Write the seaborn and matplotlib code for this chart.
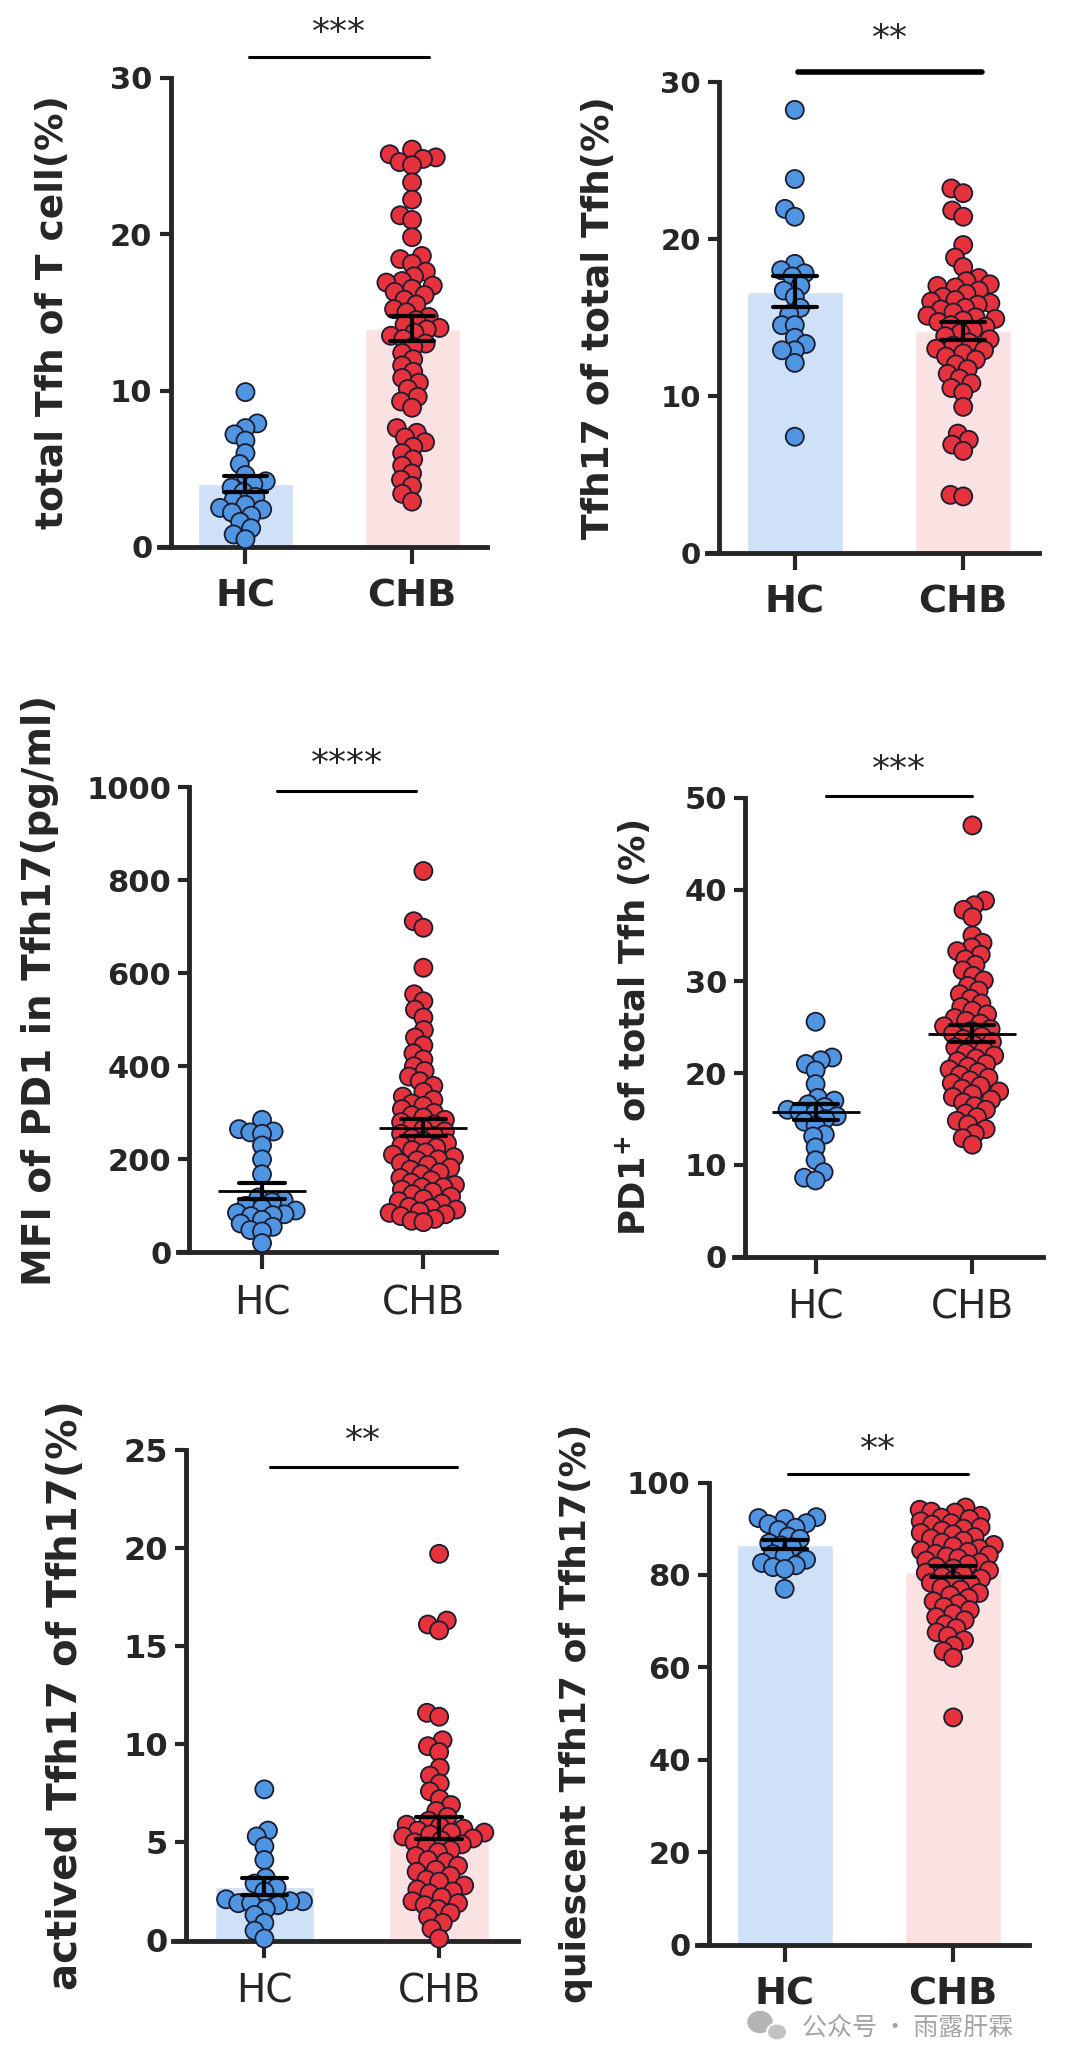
import numpy as np
import pandas as pd
import seaborn as sns
import matplotlib.pyplot as plt
from matplotlib.patches import Ellipse

groups = ['HC', 'CHB']

# total Tfh of T cell (%)
tfh_hc = [9.9, 7.9, 7.6, 7.2, 6.8, 6.0, 5.3, 4.6, 4.2, 4.0, 3.8, 3.5, 3.2, 3.0,
          2.7, 2.5, 2.4, 2.2, 2.0, 1.6, 1.2, 0.8, 0.5]
tfh_chb = [25.4, 25.1, 24.9, 24.8, 24.6, 24.4, 23.3, 22.2, 21.2, 20.9, 19.8, 18.6,
           18.4, 18.1, 17.6, 17.3, 17.0, 16.9, 16.7, 16.5, 16.3, 16.1, 15.8, 15.5,
           15.2, 15.0, 14.7, 14.5, 14.2, 14.0, 13.9, 13.7, 13.5, 13.3, 13.0, 12.8,
           12.4, 12.0, 11.6, 11.2, 10.8, 10.5, 10.1, 9.6, 9.3, 8.9, 7.6, 7.3, 7.0,
           6.7, 6.4, 6.0, 5.6, 5.2, 4.7, 4.3, 3.9, 3.4, 2.9]

# Tfh17 of total Tfh (%)
tfh17_hc = [28.2, 23.8, 21.9, 21.4, 18.4, 18.0, 17.8, 17.6, 17.0, 16.7, 16.3, 15.6,
            15.2, 14.5, 14.5, 13.7, 13.3, 12.9, 12.9, 12.1, 7.4]
tfh17_chb = [23.2, 22.9, 21.8, 21.4, 19.6, 18.8, 18.2, 17.5, 17.3, 17.1, 17.0, 16.9,
             16.7, 16.5, 16.3, 16.1, 16.0, 15.9, 15.8, 15.6, 15.5, 15.3, 15.1, 15.0,
             14.9, 14.8, 14.7, 14.5, 14.4, 14.2, 14.0, 13.8, 13.6, 13.4, 13.2, 13.0,
             12.9, 12.7, 12.5, 12.3, 12.0, 11.7, 11.4, 11.1, 10.8, 10.5, 10.2, 9.3,
             7.6, 7.2, 6.9, 6.5, 3.7, 3.6]

# MFI of PD1 in Tfh17 (pg/ml)
mfi_hc = [285, 265, 260, 258, 255, 230, 200, 168, 118, 112, 108, 100, 95, 90, 85,
          82, 80, 78, 70, 62, 55, 48, 45, 20]
mfi_chb = [820, 712, 698, 612, 555, 540, 522, 505, 478, 462, 445, 428, 415, 400,
           390, 378, 368, 358, 345, 335, 328, 320, 315, 308, 300, 295, 290, 285,
           280, 275, 270, 265, 260, 255, 250, 245, 240, 235, 230, 225, 220, 215,
           210, 205, 200, 198, 192, 188, 182, 178, 172, 168, 160, 155, 150, 145,
           140, 140, 135, 130, 125, 120, 115, 110, 105, 98, 95, 92, 88, 85, 82,
           78, 72, 68, 65]

# PD1+ of total Tfh (%)
pd1_hc = [25.6, 21.7, 21.4, 21.0, 20.3, 18.8, 17.3, 17.0, 16.6, 16.3, 16.0, 15.8,
          15.6, 15.3, 15.0, 14.7, 14.3, 13.3, 13.1, 11.9, 10.5, 9.2, 8.6, 8.3]
pd1_chb = [47.0, 38.8, 38.3, 37.8, 37.0, 35.0, 34.2, 33.7, 33.3, 32.9, 32.4, 31.8,
           31.2, 30.6, 30.1, 29.5, 29.0, 28.6, 28.1, 27.6, 27.2, 26.8, 26.4, 26.0,
           25.7, 25.4, 25.1, 24.8, 24.6, 24.3, 24.0, 23.7, 23.4, 23.1, 22.8, 22.5,
           22.2, 21.9, 21.6, 21.3, 21.0, 20.7, 20.4, 20.1, 19.8, 19.5, 19.2, 18.9,
           18.6, 18.3, 18.0, 17.7, 17.4, 17.1, 16.8, 16.4, 16.0, 15.6, 15.2, 14.8,
           14.4, 13.9, 13.4, 12.9, 12.2]

# actived Tfh17 of Tfh17 (%)
act_hc = [7.7, 5.6, 5.3, 4.8, 4.1, 3.2, 2.9, 2.7, 2.5, 2.1, 2.0, 2.0, 1.9, 1.9, 1.8,
          1.6, 1.3, 0.9, 0.5, 0.1]
act_chb = [19.7, 16.3, 16.1, 15.8, 11.6, 11.4, 10.2, 9.9, 9.6, 8.8, 8.4, 8.0, 7.6,
           7.2, 6.9, 6.6, 6.3, 6.1, 5.9, 5.8, 5.7, 5.6, 5.5, 5.5, 5.4, 5.3, 5.2,
           5.1, 5.0, 4.9, 4.8, 4.6, 4.5, 4.3, 4.1, 4.0, 3.8, 3.6, 3.5, 3.3, 3.1,
           3.0, 2.8, 2.6, 2.5, 2.4, 2.2, 2.0, 1.9, 1.8, 1.6, 1.4, 1.2, 0.9, 0.6, 0.1]

# quiescent Tfh17 of Tfh17 (%)
qui_hc = [92.5, 92.3, 92.1, 91.2, 91.0, 90.2, 89.7, 88.3, 87.8, 86.9, 86.4, 86.0,
          84.5, 84.1, 83.3, 82.6, 82.1, 81.7, 81.3, 77.0]
qui_chb = [94.6, 94.1, 93.7, 93.5, 92.8, 92.4, 92.1, 91.6, 91.2, 90.9, 90.3, 90.0,
           89.6, 89.1, 88.8, 88.2, 87.9, 87.4, 87.0, 86.5, 86.2, 85.7, 85.3, 85.0,
           84.6, 84.3, 84.0, 83.6, 83.1, 82.7, 82.3, 81.8, 81.4, 81.0, 80.5, 80.1,
           79.7, 79.2, 78.8, 78.3, 77.9, 77.2, 76.8, 76.1, 75.6, 75.0, 74.3, 73.8,
           73.1, 72.4, 71.6, 70.9, 70.2, 69.3, 68.5, 67.6, 66.8, 65.9, 64.7, 63.5,
           62.1, 49.2]

sns.set_style('ticks')
plt.rcParams['font.family'] = ['DejaVu Sans']
plt.rcParams['mathtext.default'] = 'bf'

bar_colors = {'HC': '#cfe1f6', 'CHB': '#fbe2e2'}
dot_colors = {'HC': '#4f95e2', 'CHB': '#e5323c'}

fig = plt.figure(figsize=(10.8, 20.64), dpi=100)
swarms = []


def px_rect(x0, y0, x1, y1):
    return [x0 / 1080, 1 - y1 / 2064, (x1 - x0) / 1080, (y1 - y0) / 2064]


def draw_panel(box, hc, chb, ylabel, yticks, stars, sig_y, sig_x, star_y, label_x,
               bars=True, label_size=27, label_y=0.5, xweight='bold', sig_lw=2.2,
               swarm_size=7.5, ytick_size=22):
    ax = fig.add_axes(px_rect(*box))
    df = pd.DataFrame({'group': ['HC'] * len(hc) + ['CHB'] * len(chb),
                       'value': hc + chb})
    if bars:
        sns.barplot(data=df, x='group', y='value', hue='group', order=groups,
                    hue_order=groups, palette=bar_colors, errorbar=None, width=0.57,
                    saturation=1, legend=False, ax=ax)
    n0 = len(ax.collections)
    sns.swarmplot(data=df, x='group', y='value', hue='group', order=groups,
                  hue_order=groups, palette=dot_colors, size=swarm_size,
                  edgecolor='#1c1c30', linewidth=1.3, legend=False, ax=ax)
    swarms.extend(ax.collections[n0:])
    n_lines = len(ax.lines)
    if bars:
        sns.pointplot(data=df, x='group', y='value', order=groups, errorbar='se',
                      capsize=0.26, color='black', linestyle='none', marker='',
                      err_kws={'linewidth': 3}, ax=ax)
    else:
        sns.pointplot(data=df, x='group', y='value', order=groups, errorbar='se',
                      capsize=0.28, color='black', linestyle='none', marker='_',
                      markersize=64, markeredgewidth=2,
                      err_kws={'linewidth': 3}, ax=ax)
    for line in ax.lines[n_lines:]:
        line.set_zorder(5)

    ax.set_xlim(-0.45, 1.45)
    ax.set_ylim(0, yticks[-1])
    ax.set_yticks(yticks)
    ax.set_xlabel('')
    ax.set_ylabel(ylabel, fontsize=label_size, fontweight='bold', va='center')
    ax.yaxis.set_label_coords((label_x - box[0]) / (box[2] - box[0]), label_y)
    sns.despine(ax=ax)
    for side in ['left', 'bottom']:
        ax.spines[side].set_linewidth(3.5)
    # x axis runs a little past the y axis, as in the original
    ax.spines['bottom'].set_bounds(-0.52, 1.45)
    xsize = 27.5 if xweight == 'bold' else 28
    ax.tick_params(axis='y', length=8, width=3, labelsize=ytick_size, pad=5)
    ax.tick_params(axis='x', length=12, width=3, labelsize=xsize, pad=11)
    for t in ax.get_yticklabels():
        t.set_fontweight('bold')
    for t in ax.get_xticklabels():
        t.set_fontweight(xweight)

    ax.plot(sig_x, [sig_y, sig_y], color='black', lw=sig_lw, clip_on=False)
    ax.text(np.mean(sig_x), star_y, stars, ha='center', va='center', fontsize=26,
            clip_on=False)
    return ax


draw_panel((170.5, 77.6, 487, 547), tfh_hc, tfh_chb, 'total Tfh of T cell(%)',
           [0, 10, 20, 30], '***', 31.3, [0.02, 1.10], 32.85, 53, label_size=27)
draw_panel((719, 81.6, 1039, 553), tfh17_hc, tfh17_chb, 'Tfh17 of total Tfh(%)',
           [0, 10, 20, 30], '**', 30.6, [0.02, 1.11], 32.7, 598.5, sig_lw=4,
           ytick_size=21)
draw_panel((189.4, 787.3, 496, 1252.4), mfi_hc, mfi_chb, 'MFI of PD1 in Tfh17(pg/ml)',
           [0, 200, 400, 600, 800, 1000], '****', 991, [0.095, 0.957], 1050, 39.6,
           bars=False, label_size=28, label_y=0.564, xweight='normal', swarm_size=6.8)
draw_panel((745, 797.9, 1043, 1256.6), pd1_hc, pd1_chb, 'PD1$^{+}$ of total Tfh (%)',
           [0, 10, 20, 30, 40, 50], '***', 50.24, [0.064, 1.0], 53, 633,
           bars=False, label_size=25.5, xweight='normal', swarm_size=6.8)
draw_panel((185.7, 1449.8, 517.8, 1940.5), act_hc, act_chb, 'actived Tfh17 of Tfh17(%)',
           [0, 5, 10, 15, 20, 25], '**', 24.11, [0.03, 1.10], 25.45, 66,
           label_size=29, xweight='normal', ytick_size=23)
draw_panel((708.8, 1482.5, 1029, 1944.9), qui_hc, qui_chb, 'quiescent Tfh17 of Tfh17(%)',
           [0, 20, 40, 60, 80, 100], '**', 101.9, [0.02, 1.09], 107.1, 576,
           label_size=26, swarm_size=6.8)

# watermark
fig.add_artist(Ellipse((760 / 1080, 1 - 2022 / 2064), 24 / 1080, 21 / 2064,
                       transform=fig.transFigure, color='#b4b4b4'))
fig.add_artist(Ellipse((777 / 1080, 1 - 2032 / 2064), 20 / 1080, 17 / 2064,
                       transform=fig.transFigure, color='#c2c2c2', ec='white', lw=1.5))
fig.text(802 / 1080, 1 - 2028 / 2064, '公众号 · 雨露肝霖', color='#a3a3a3', fontsize=18,
         va='center', family=['Noto Sans CJK SC', 'DejaVu Sans'])

# lay out the swarms with a small marker, then draw the markers larger so they overlap
fig.canvas.draw()
for col in swarms:
    col.__dict__.pop('draw', None)
    col.set_sizes([13 ** 2])
    col.set_clip_on(False)
    col.set_zorder(3)

fig.savefig('out.png', dpi=100, facecolor='white')
